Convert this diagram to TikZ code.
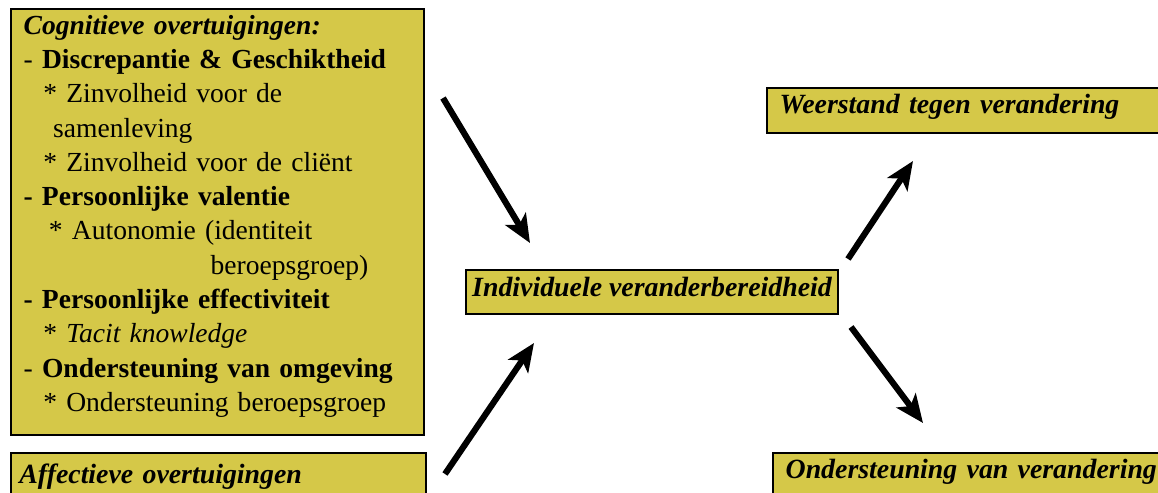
\documentclass[tikz,border=0pt]{standalone}
\usepackage{fontspec}
\setmainfont{Liberation Serif}
\usepackage{tikz}
\usetikzlibrary{arrows.meta,positioning}

\definecolor{boxyellow}{RGB}{213,200,72}
\newcommand{\indnt}[1]{\hspace*{#1}}

\begin{document}
\begin{tikzpicture}[
    x=0.025cm, y=-0.025cm,
    every node/.style={font=\fontsize{19.6}{24.4}\selectfont},
    box/.style={
        draw,
        fill=boxyellow,
        line width=1.4pt,
        align=left,
        inner xsep=4pt,
        inner ysep=0pt
    },
    title/.style={font=\fontsize{19.8}{24.4}\selectfont\bfseries\itshape},
    arrow/.style={-{Stealth[length=20pt,width=17pt,inset=5pt]}, line width=4.4pt}
]
\useasboundingbox (0,0) rectangle (1158,493);
\clip (0,0) rectangle (1158,493);

% Beliefs on the left
\node[box, anchor=north west, text width=9.7cm, minimum height=10.65cm,
      inner xsep=9pt] (cogn) at (10,8) {%
{\bfseries\itshape Cognitieve overtuigingen:}\\
- \textbf{Discrepantie \& Geschiktheid}\\
\indnt{14pt}* Zinvolheid voor de\\
\indnt{21pt}samenleving\\
\indnt{14pt}* Zinvolheid voor de cliënt\\
\textbf{- Persoonlijke valentie}\\
\indnt{18pt}* Autonomie (identiteit\\
\indnt{133pt}beroepsgroep)\\
\textbf{- Persoonlijke effectiviteit}\\
\indnt{14pt}* \textit{Tacit knowledge}\\
- \textbf{Ondersteuning van omgeving}\\
\indnt{14pt}* Ondersteuning beroepsgroep\rule[-12.5pt]{0pt}{12.5pt}};

\node[box, title, below right=0.4cm and 0cm of cogn.south west,
      text width=9.95cm, minimum height=1.2cm, inner xsep=6pt,
      text depth=5pt] (affect) {Affectieve overtuigingen};

% Readiness in the middle
\node[box, title, minimum width=9.3cm, minimum height=1.1cm, align=center,
      inner xsep=2pt, text depth=8pt] (ready) at (652,292)
      {Individuele veranderbereidheid};

% Outcomes on the right
\node[box, title, anchor=north west, text width=9.4cm, minimum height=1.125cm,
      inner xsep=9pt, text depth=9pt] (resist) at (766,87)
      {Weerstand tegen verandering};
\node[box, title, anchor=north west, text width=10cm, minimum height=1.2cm,
      inner xsep=9pt, text depth=12pt] (support) at (772,452)
      {Ondersteuning van verandering};

% Free arrow ends
\coordinate (in1s) at (443,98);
\coordinate (in1e) at (530,243);
\coordinate (in2s) at (445,474);
\coordinate (in2e) at (534,343);
\coordinate (out1s) at (848,259);
\coordinate (out1e) at (913,161);
\coordinate (out2s) at (851,327);
\coordinate (out2e) at (923,423);

\draw[arrow] (in1s) -- (in1e);
\draw[arrow] (in2s) -- (in2e);
\draw[arrow] (out1s) -- (out1e);
\draw[arrow] (out2s) -- (out2e);

\end{tikzpicture}
\end{document}
